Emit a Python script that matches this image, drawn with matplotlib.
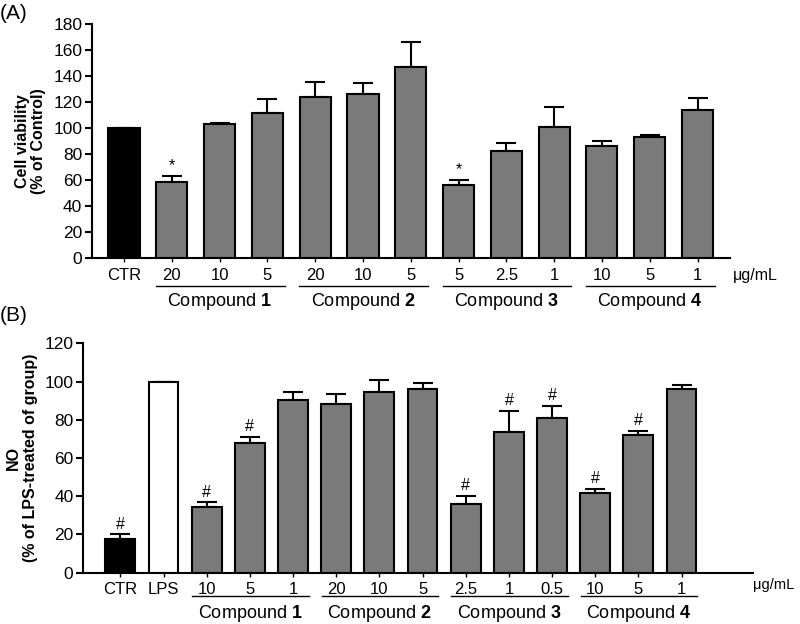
import numpy as np
import matplotlib
matplotlib.use("Agg")
import matplotlib.pyplot as plt
import matplotlib.transforms as mtransforms

plt.rcParams['font.family'] = ['Liberation Sans', 'DejaVu Sans']
plt.rcParams['mathtext.fontset'] = 'custom'
plt.rcParams['mathtext.bf'] = 'Liberation Sans:bold'
plt.rcParams['mathtext.rm'] = 'Liberation Sans'

# panel A: cell viability
labels_a = ["CTR", "20", "10", "5", "20", "10", "5", "5", "2.5", "1", "10", "5", "1"]
vals_a = [100, 58.7, 102.8, 111.8, 124.0, 126.4, 147.0, 56.4, 82.3, 101.0, 86.4, 93.3, 113.6]
errs_a = [0, 4.6, 1.2, 10.7, 11.4, 8.0, 19.0, 3.6, 5.9, 15.0, 3.6, 1.3, 9.4]
marks_a = ["", "*", "", "", "", "", "", "*", "", "", "", "", ""]
colors_a = ["black"] + ["#7a7a7a"] * 12
groups_a = [(1, 3, "1"), (4, 6, "2"), (7, 9, "3"), (10, 12, "4")]

# panel B: NO production
labels_b = ["CTR", "LPS", "10", "5", "1", "20", "10", "5", "2.5", "1", "0.5", "10", "5", "1"]
vals_b = [17.5, 100, 34.5, 67.7, 90.3, 88.4, 94.7, 96.2, 35.8, 73.6, 80.7, 41.8, 72.0, 96.2]
errs_b = [2.6, 0, 2.3, 3.4, 4.2, 4.9, 6.1, 3.0, 4.5, 11.0, 6.5, 2.2, 2.3, 1.8]
marks_b = ["#", "", "#", "#", "", "", "", "", "#", "#", "#", "#", "#", ""]
colors_b = ["black", "white"] + ["#7a7a7a"] * 12
groups_b = [(2, 4, "1"), (5, 7, "2"), (8, 10, "3"), (11, 13, "4")]

fig = plt.figure(figsize=(8, 6.24), dpi=100)
ax_a = fig.add_axes([0.115, 0.5865, 0.7975, 0.375])
ax_b = fig.add_axes([0.104, 0.0822, 0.837, 0.3676])


def draw_panel(ax, labels, vals, errs, marks, colors, groups, width, ymax, ystep,
               xlim, ylabel, line_y, text_y, unit_pos, unit_size):
    x = np.arange(len(vals))
    ax.bar(x, vals, width=width, color=colors, edgecolor="black", linewidth=1.5, zorder=2)
    ax.errorbar(x, vals, yerr=[np.zeros(len(errs)), errs], fmt="none", ecolor="black",
                elinewidth=1.5, capsize=7, capthick=1.5, zorder=1)
    for xi, v, e, m in zip(x, vals, errs, marks):
        if m:
            ax.annotate(m, (xi, v + e), xytext=(0, 2), textcoords="offset points",
                        ha="center", va="bottom", fontsize=11.5)
    ax.set_xlim(*xlim)
    ax.set_ylim(0, ymax)
    ax.set_yticks(np.arange(0, ymax + 1, ystep))
    ax.set_xticks(x)
    ax.set_xticklabels(labels)
    for s in ["top", "right"]:
        ax.spines[s].set_visible(False)
    for s in ["left", "bottom"]:
        ax.spines[s].set_linewidth(1.5)
    ax.tick_params(axis="x", length=3, width=1, pad=4, labelsize=12)
    ax.tick_params(axis="y", length=5, width=1.5, pad=2, labelsize=12.5)
    ax.set_ylabel(ylabel, fontweight="bold", fontsize=11.5, linespacing=1.15, labelpad=5)
    trans = mtransforms.blended_transform_factory(ax.transData, ax.transAxes)
    for a, b, num in groups:
        ax.plot([a - 0.33, b + 0.36], [line_y, line_y], color="black", lw=1,
                transform=trans, clip_on=False)
        ax.text((a + b) / 2, text_y, "Compound $\\mathbf{" + num + "}$", transform=trans,
                ha="center", va="center", fontsize=13)
    ax.text(unit_pos[0], unit_pos[1], "μg/mL", transform=trans, ha="left",
            va="center", fontsize=unit_size)


draw_panel(ax_a, labels_a, vals_a, errs_a, marks_a, colors_a, groups_a, 0.65, 180, 20,
           (-0.67, 12.68), "Cell viability\n(% of Control)", -0.12, -0.184, (12.74, -0.073), 11.5)
draw_panel(ax_b, labels_b, vals_b, errs_b, marks_b, colors_b, groups_b, 0.69, 120, 20,
           (-0.86, 14.65), "NO\n(% of LPS-treated of group)", -0.10, -0.176, (14.66, -0.054), 10.5)

fig.text(0.0, 0.978, "(A)", fontsize=15, va="center", ha="left")
fig.text(0.0, 0.495, "(B)", fontsize=15, va="center", ha="left")

fig.savefig("out.png", dpi=100)
